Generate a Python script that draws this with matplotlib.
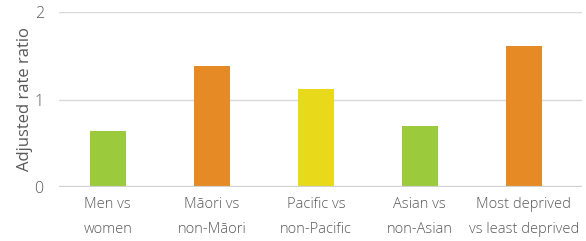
import matplotlib.pyplot as plt

categories = ["Men vs\nwomen", "Māori vs\nnon-Māori", "Pacific vs\nnon-Pacific",
              "Asian vs\nnon-Asian", "Most deprived\nvs least deprived"]
ratios = [0.64, 1.38, 1.12, 0.70, 1.61]
colors = ["#9bca3c", "#e68a25", "#e8da1a", "#9bca3c", "#e68a25"]

plt.rcParams["font.family"] = ["Open Sans", "DejaVu Sans"]
plt.rcParams["font.weight"] = "light"
text_color = "#595959"

fig = plt.figure(figsize=(5.86, 2.41), dpi=100)
ax = fig.add_axes([59 / 586, 1 - 187 / 241, (582 - 59) / 586, 175 / 241])

x = range(len(categories))
ax.bar(x, ratios, width=0.345, color=colors, zorder=3)

ax.set_ylim(0, 2)
ax.set_xlim(-0.47, 4.56)
ax.set_yticks([0, 1, 2])
ax.yaxis.grid(True, color="#d9d9d9", linewidth=1.0, zorder=0)
ax.axhline(0, color="#d0d0d0", linewidth=1.6, zorder=4)
for s in ax.spines.values():
    s.set_visible(False)

ax.set_xticks(list(x))
ax.set_xticklabels(categories, fontsize=10.5, color=text_color, linespacing=1.9)
ax.tick_params(axis="both", length=0, labelcolor=text_color)
ax.tick_params(axis="x", pad=7)
ax.tick_params(axis="y", labelsize=11.5, pad=11)
ax.set_ylabel("Adjusted rate ratio", fontsize=12, color=text_color, labelpad=1)

fig.savefig("out.png", dpi=100)
